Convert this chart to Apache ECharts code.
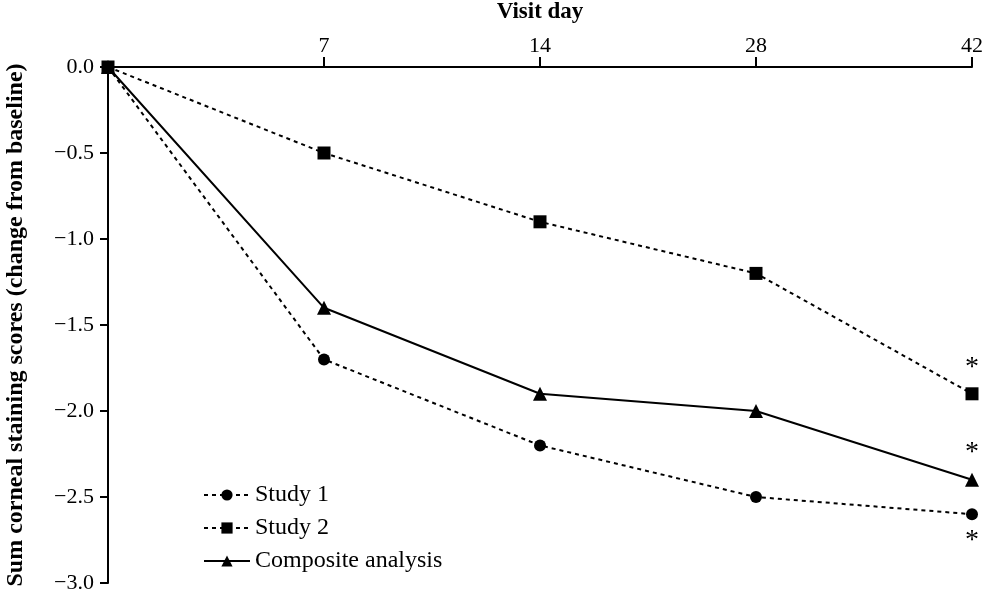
<!DOCTYPE html>
<html>
<head>
<meta charset="utf-8">
<script src="https://cdn.jsdelivr.net/npm/echarts@6/dist/echarts.min.js"></script>
<style>
  html, body { margin: 0; padding: 0; background: #fff; }
  #chart { width: 989px; height: 589px; }
</style>
</head>
<body>
<div id="chart"></div>
<script>
const visitDays = ['0', '7', '14', '28', '42']
const study1 = [0, -1.7, -2.2, -2.5, -2.6]
const study2 = [0, -0.5, -0.9, -1.2, -1.9]
const composite = [0, -1.4, -1.9, -2.0, -2.4]
const yTicks = [0, -0.5, -1.0, -1.5, -2.0, -2.5, -3.0]

const font = '"Liberation Serif", "DejaVu Serif", serif'
const last = visitDays.length - 1

// asterisk only on the day-42 point
const starLabel = (pos) => ({
  show: true,
  position: pos,
  distance: 6,
  fontFamily: font,
  fontSize: 28,
  color: '#000',
  formatter: p => (p.dataIndex === last ? '*' : '')
})

const chart = echarts.init(document.getElementById('chart'))

const option = {
  backgroundColor: '#fff',
  animation: false,
  grid: { left: 108, right: 17, top: 67, bottom: 6, outerBoundsMode: 'none', containLabel: false },
  legend: {
    orient: 'vertical',
    left: 198,
    top: 478,
    itemGap: 9,
    itemWidth: 46,
    itemHeight: 14,
    textStyle: { fontFamily: font, fontSize: 24, color: '#000' },
    data: ['Study 1', 'Study 2', 'Composite analysis']
  },
  xAxis: {
    type: 'category',
    position: 'top',
    boundaryGap: false,
    data: visitDays,
    name: 'Visit day',
    nameLocation: 'middle',
    nameGap: 43,
    nameTextStyle: { fontFamily: font, fontSize: 23, fontWeight: 'bold', color: '#000' },
    axisLine: { lineStyle: { color: '#000', width: 2 } },
    axisTick: {
      length: 10,
      interval: (i) => i !== 0,
      lineStyle: { color: '#000', width: 2 }
    },
    axisLabel: {
      fontFamily: font, fontSize: 22, color: '#000', margin: 10,
      formatter: v => (v === '0' ? '' : v)
    },
    splitLine: { show: false }
  },
  yAxis: {
    type: 'value',
    min: yTicks[yTicks.length - 1],
    max: yTicks[0],
    interval: 0.5,
    name: 'Sum corneal staining scores (change from baseline)',
    nameLocation: 'middle',
    nameGap: 80,
    nameTextStyle: { fontFamily: font, fontSize: 24, fontWeight: 'bold', color: '#000' },
    axisLine: { show: true, lineStyle: { color: '#000', width: 2 } },
    axisTick: { show: true, length: 8, lineStyle: { color: '#000', width: 2 } },
    axisLabel: {
      fontFamily: font, fontSize: 22, color: '#000', margin: 14,
      formatter: v => v.toFixed(1).replace('-', '\u2212')
    },
    splitLine: { show: false }
  },
  series: [
    {
      name: 'Study 1',
      type: 'line',
      data: study1,
      symbol: 'circle',
      symbolSize: 12,
      itemStyle: { color: '#000' },
      lineStyle: { color: '#000', width: 2, type: [4, 4] },
      label: starLabel('bottom'),
      z: 2
    },
    {
      name: 'Composite analysis',
      type: 'line',
      data: composite,
      symbol: 'triangle',
      symbolSize: 14,
      itemStyle: { color: '#000' },
      lineStyle: { color: '#000', width: 2 },
      label: starLabel('top'),
      z: 3
    },
    {
      name: 'Study 2',
      type: 'line',
      data: study2,
      symbol: 'rect',
      symbolSize: 13,
      itemStyle: { color: '#000' },
      lineStyle: { color: '#000', width: 2, type: [4, 4] },
      label: starLabel('top'),
      z: 4
    }
  ]
}

chart.setOption(option)
window.addEventListener('resize', () => chart.resize())
</script>
</body>
</html>
